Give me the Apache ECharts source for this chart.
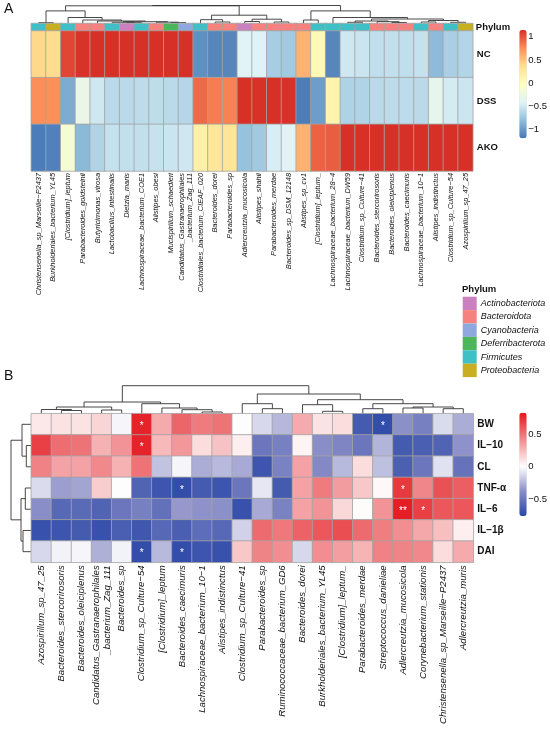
<!DOCTYPE html>
<html>
<head>
<meta charset="utf-8">
<title>Heatmaps</title>
<script src="https://cdn.jsdelivr.net/npm/echarts@6.0.0/dist/echarts.min.js"></script>
<style>
  html, body { margin: 0; padding: 0; background: #fff; }
  #chart { width: 550px; height: 729px; }
</style>
</head>
<body>
<div id="chart"></div>
<script>
// ---------- panel A data ----------
var taxaA = ['Christensenella_sp_Marseille−P2437', 'Burkholderiales_bacterium_YL45', '[Clostridium]_leptum',
  'Parabacteroides_goldsteinii', 'Butyricimonas_virosa', 'Lactobacillus_intestinalis', 'Dietzia_maris',
  'Lachnospiraceae_bacterium_COE1', 'Alistipes_obesi', 'Mucispirillum_schaedleri',
  'Candidatus_Gastranaerophilales\n_bacterium_Zag_111', 'Clostridiales_bacterium_CIEAF_020', 'Bacteroides_dorei',
  'Parabacteroides_sp', 'Adlercreutzia_mucosicola', 'Alistipes_shahii', 'Parabacteroides_merdae',
  'Bacteroides_sp_DSM_12148', 'Alistipes_sp_cv1', '[Clostridium]_leptum_', 'Lachnospiraceae_bacterium_28−4',
  'Lachnospiraceae_bacterium_DW59', 'Clostridium_sp_Culture−41', 'Bacteroides_stercorirosoris',
  'Bacteroides_oleiciplenus', 'Bacteroides_caecimuris', 'Lachnospiraceae_bacterium_10−1',
  'Alistipes_indistinctus', 'Clostridium_sp_Culture−54', 'Azospirillum_sp_47_25'];
var groupsA = ['NC', 'DSS', 'AKO'];
var phylumA = ['Firmicutes', 'Proteobacteria', 'Firmicutes', 'Bacteroidota', 'Bacteroidota', 'Firmicutes',
  'Actinobacteriota', 'Firmicutes', 'Bacteroidota', 'Deferribacterota', 'Cyanobacteria', 'Firmicutes',
  'Bacteroidota', 'Bacteroidota', 'Actinobacteriota', 'Bacteroidota', 'Bacteroidota', 'Bacteroidota',
  'Bacteroidota', 'Firmicutes', 'Firmicutes', 'Firmicutes', 'Firmicutes', 'Bacteroidota', 'Bacteroidota',
  'Bacteroidota', 'Firmicutes', 'Bacteroidota', 'Firmicutes', 'Proteobacteria'];
var ncA = [0.4, 0.38, 1.05, 1.13, 1.15, 1.15, 1.15, 1.15, 1.15, 1.15, 1.15, -1.05, -1.1, -1.1, -0.4, -0.42,
  -0.7, -0.72, 0.58, 0.05, -1.1, -0.5, -0.52, -0.57, -0.56, -0.57, -0.55, -0.82, -0.68, -0.64];
var dssA = [0.75, 0.74, -0.9, -0.3, -0.5, -0.6, -0.6, -0.59, -0.58, -0.6, -0.63, 0.9, 0.82, 0.8, 1.15, 1.14,
  1.15, 1.14, -1.15, -0.98, 0.12, -0.66, -0.65, -0.6, -0.59, -0.59, -0.6, -0.33, -0.47, -0.51];
var akoA = [-1.15, -1.13, -0.15, -0.83, -0.65, -0.55, -0.56, -0.56, -0.54, -0.52, -0.5, 0.17, 0.28, 0.3, -0.78,
  -0.72, -0.45, -0.4, 0.58, 0.93, 0.95, 1.15, 1.15, 1.15, 1.15, 1.15, 1.15, 1.15, 1.15, 1.15];
// column tree, nodes are [left, right, height], leaves are column positions
var c1A = [[0, 1, 0.8], [2, [3, [4, [[5, [6, 7, 0.8], 1.2], [8, [9, 10, 0.9], 1.3], 1.8], 2.5], 3.5], 6.0], 12.6];
var c2A = [[11, [12, 13, 1.5], 3.8], [[14, 15, 2.0], [16, 17, 1.5], 4.3], 8.3];
var c3A = [[18, 19, 3.5], [20, [[[21, 22, 1.2], [23, [24, 25, 1.0], 1.8], 2.5], [[26, 27, 1.5], [28, 29, 1.2], 3.0], 4.5], 6.0], 12.6];
var treeA = [[c1A, c2A, 17.7], c3A, 18.0];
var phylumNames = ['Actinobacteriota', 'Bacteroidota', 'Cyanobacteria', 'Deferribacterota', 'Firmicutes', 'Proteobacteria'];
var phylumColors = ['#CB80BF', '#F6827F', '#8FA8DE', '#4BB65A', '#3FC0C6', '#C8AF22'];
var ticksA = [-1, -0.5, 0, 0.5, 1];

// ---------- panel B data ----------
var taxaB = ['Azospirillum_sp_47_25', 'Bacteroides_stercorirosoris', 'Bacteroides_oleiciplenus',
  'Candidatus_Gastranaerophilales\n_bacterium_Zag_111', 'Bacteroides_sp', 'Clostridium_sp_Culture−54',
  '[Clostridium]_leptum', 'Bacteroides_caecimuris', 'Lachnospiraceae_bacterium_10−1', 'Alistipes_indistinctus',
  'Clostridium_sp_Culture−41', 'Parabacteroides_sp', 'Ruminococcaceae_bacterium_GD6', 'Bacteroides_dorei',
  'Burkholderiales_bacterium_YL45', '[Clostridium]_leptum_', 'Parabacteroides_merdae', 'Streptococcus_danieliae',
  'Adlercreutzia_mucosicola', 'Corynebacterium_stationis', 'Christensenella_sp_Marseille−P2437', 'Adlercreutzia_muris'];
var indicesB = ['BW', 'IL−10', 'CL', 'TNF-α', 'IL−6', 'IL−1β', 'DAI'];
var bwB = [0.08, 0.1, 0.1, 0.15, -0.03, 0.78, 0.3, 0.55, 0.47, 0.5, 0.0, -0.13, -0.24, 0.3, 0.1, 0.12, -0.65, -0.72, -0.37, -0.45, -0.12, -0.27];
var il10B = [0.68, 0.52, 0.5, 0.28, 0.38, 0.78, 0.25, 0.37, 0.12, 0.22, 0.06, -0.5, -0.45, 0.04, -0.38, -0.42, -0.5, -0.25, -0.65, -0.63, -0.6, -0.36];
var clB = [0.45, 0.33, 0.33, 0.42, 0.28, 0.5, -0.2, -0.03, -0.27, -0.23, -0.28, -0.68, -0.44, 0.33, -0.4, -0.23, 0.12, -0.21, -0.62, -0.5, -0.1, -0.52];
var tnfB = [-0.12, -0.32, -0.3, 0.18, 0.0, -0.6, -0.68, -0.72, -0.65, -0.68, -0.5, -0.08, -0.65, 0.33, 0.47, 0.35, 0.2, 0.02, 0.7, 0.43, 0.62, 0.57];
var il6B = [-0.38, -0.58, -0.57, -0.6, -0.5, -0.45, -0.53, -0.34, -0.36, -0.37, -0.7, -0.28, -0.44, 0.33, 0.38, 0.14, 0.01, 0.38, 0.8, 0.68, 0.6, 0.6];
var il1bB = [-0.7, -0.68, -0.65, -0.7, -0.63, -0.67, -0.58, -0.63, -0.55, -0.58, -0.15, 0.53, 0.48, 0.56, 0.6, 0.63, 0.53, 0.46, 0.4, 0.31, 0.23, 0.06];
var daiB = [-0.13, -0.04, -0.03, -0.26, -0.04, -0.72, -0.23, -0.72, -0.68, -0.7, 0.2, 0.44, 0.4, -0.13, 0.4, 0.34, 0.27, 0.45, 0.44, 0.42, 0.12, 0.3];
// significance marks: [column, row, mark]
var starsB = [[5, 0, '*'], [17, 0, '*'], [5, 1, '*'], [7, 3, '*'], [18, 3, '*'], [18, 4, '**'], [19, 4, '*'], [5, 6, '*'], [7, 6, '*']];
var leftB = [[[0, [1, 2, 3.2], 4.2], [3, 4, 3.7], 6.7], [5, [6, [7, [8, 9, 1.7], 4.0], 5.7], 10.0], 11.7];
var rightB = [[10, [11, 12, 5.0], 10.0], [[13, [14, 15, 2.4], 9.0], [[16, 17, 5.0], [[18, 19, 5.7], [20, 21, 5.0], 6.7], 10.0], 14.0], 19.7];
var treeBcol = [leftB, rightB, 28.0];
var treeBrow = [[0, [1, 2, 5.0], 9.3], [[3, 4, 6.0], [5, 6, 8.3], 10.3], 20.3];
var ticksB = [-0.5, 0, 0.5];

// ---------- helpers ----------
var FONT = 'Liberation Sans, Arial, sans-serif';
var minA = -1.19, maxA = 1.144, minB = -0.756, maxB = 0.826;

function walk(node, segs) {
  if (typeof node === 'number') return { pos: node, h: 0 };
  var l = walk(node[0], segs), r = walk(node[1], segs);
  segs.push([l.pos, r.pos, l.h, r.h, node[2]]);
  return { pos: (l.pos + r.pos) / 2, h: node[2] };
}
function segments(tree) { var s = []; walk(tree, s); return s; }

function dendro(horizontal) {
  return function (params, api) {
    var x1 = api.value(0), x2 = api.value(1), h1 = api.value(2), h2 = api.value(3), hm = api.value(4);
    var pts = horizontal
      ? [[h1, x1], [hm, x1], [hm, x2], [h2, x2]]
      : [[x1, h1], [x1, hm], [x2, hm], [x2, h2]];
    return {
      type: 'polyline',
      shape: { points: pts.map(function (p) { return api.coord(p); }) },
      style: { stroke: '#333', lineWidth: 0.9, fill: null }
    };
  };
}

function hex(c) { return [parseInt(c.substr(1, 2), 16), parseInt(c.substr(3, 2), 16), parseInt(c.substr(5, 2), 16)]; }
function mix(a, b, t) {
  var p = hex(a), q = hex(b);
  return 'rgb(' + p.map(function (v, i) { return Math.round(v + (q[i] - v) * t); }).join(',') + ')';
}
var paletteB = [];
for (var i = 0; i <= 40; i++) {
  var v = minB + (maxB - minB) * i / 40;
  if (v < 0) {
    var t = v / minB;
    paletteB.push(t <= 0.5 ? mix('#ffffff', '#8A8DC7', t / 0.5) : mix('#8A8DC7', '#2A47A7', (t - 0.5) / 0.5));
  } else {
    paletteB.push(mix('#ffffff', '#E3171D', v / maxB));
  }
}
function minus(v) { return String(v).replace('-', '−'); }

var heatA = [];
[ncA, dssA, akoA].forEach(function (row, r) {
  row.forEach(function (val, c) { heatA.push([c, r, val]); });
});
var annotA = phylumA.map(function (p, c) { return [c, 0, phylumNames.indexOf(p)]; });
var heatB = [];
[bwB, il10B, clB, tnfB, il6B, il1bB, daiB].forEach(function (row, r) {
  row.forEach(function (val, c) { heatB.push([c, r, val]); });
});
var starMap = {};
starsB.forEach(function (s) { starMap[s[0] + '_' + s[1]] = s[2]; });

var hidden = { show: false };
var noLine = { show: false };

var myChart = echarts.init(document.getElementById('chart'));
var option = {
  animation: false,
  backgroundColor: '#fff',
  textStyle: { fontFamily: FONT },
  graphic: [
    { type: 'text', left: 4, top: 2, style: { text: 'A', fontSize: 14, fontFamily: FONT, fill: '#111' } },
    { type: 'text', left: 4, top: 369, style: { text: 'B', fontSize: 14, fontFamily: FONT, fill: '#111' } },
    { type: 'text', left: 462, top: 284, style: { text: 'Phylum', fontSize: 9.5, fontWeight: 'bold', fontFamily: FONT, fill: '#111' } }
  ],
  grid: [
    { left: 31.3, top: 3, width: 441.5, height: 20.5 },          // 0 A tree
    { left: 31.3, top: 23.5, width: 441.5, height: 7.3 },        // 1 A phylum bar
    { left: 31.3, top: 31, width: 441.5, height: 140 },          // 2 A heatmap
    { left: 519.3, top: 30, width: 7.4, height: 108.3 },         // 3 A colour bar axis
    { left: 31.3, top: 383, width: 442, height: 30.7 },          // 4 B column tree
    { left: 8, top: 413.7, width: 23.3, height: 148.6 },         // 5 B row tree
    { left: 31.3, top: 413.7, width: 442, height: 148.6 },       // 6 B heatmap
    { left: 519.3, top: 412.7, width: 7.4, height: 103.3 }       // 7 B colour bar axis
  ],
  xAxis: [
    { gridIndex: 0, type: 'value', min: -0.5, max: taxaA.length - 0.5, show: false },
    { gridIndex: 1, type: 'category', data: taxaA, show: false },
    { gridIndex: 2, type: 'category', data: taxaA, axisLine: noLine, axisTick: hidden,
      axisLabel: { interval: 0, rotate: 90, fontSize: 7.4, fontStyle: 'italic', color: '#111', margin: 2, lineHeight: 8 } },
    { gridIndex: 3, type: 'value', show: false },
    { gridIndex: 4, type: 'value', min: -0.5, max: taxaB.length - 0.5, show: false },
    { gridIndex: 5, type: 'value', min: 0, max: 23.3, inverse: true, show: false },
    { gridIndex: 6, type: 'category', data: taxaB, axisLine: noLine, axisTick: hidden,
      axisLabel: { interval: 0, rotate: 90, fontSize: 9.6, fontStyle: 'italic', color: '#111', margin: 3, lineHeight: 10.5 } },
    { gridIndex: 7, type: 'value', show: false }
  ],
  yAxis: [
    { gridIndex: 0, type: 'value', min: 0, max: 20.5, show: false },
    { gridIndex: 1, type: 'category', data: ['Phylum'], position: 'right', axisLine: noLine, axisTick: hidden,
      axisLabel: { fontSize: 9.5, fontWeight: 'bold', color: '#111', margin: 3 } },
    { gridIndex: 2, type: 'category', data: groupsA, inverse: true, position: 'right', axisLine: noLine, axisTick: hidden,
      axisLabel: { fontSize: 9.5, fontWeight: 'bold', color: '#111', margin: 4 } },
    { gridIndex: 3, type: 'value', min: minA, max: maxA, position: 'right', axisLine: noLine, axisTick: hidden,
      splitLine: hidden, axisLabel: { customValues: ticksA, formatter: minus, fontSize: 9.5, color: '#111', margin: 3.5 } },
    { gridIndex: 4, type: 'value', min: 0, max: 30.7, show: false },
    { gridIndex: 5, type: 'value', min: -0.5, max: indicesB.length - 0.5, inverse: true, show: false },
    { gridIndex: 6, type: 'category', data: indicesB, inverse: true, position: 'right', axisLine: noLine, axisTick: hidden,
      axisLabel: { fontSize: 10, fontWeight: 'bold', color: '#111', margin: 4 } },
    { gridIndex: 7, type: 'value', min: minB, max: maxB, position: 'right', axisLine: noLine, axisTick: hidden,
      splitLine: hidden, axisLabel: { customValues: ticksB, formatter: minus, fontSize: 9.5, color: '#111', margin: 3 } }
  ],
  visualMap: [
    { type: 'continuous', seriesIndex: 2, dimension: 2, min: minA, max: maxA, calculable: false,
      left: 519.3, top: 30, itemWidth: 7.4, itemHeight: 108.3, padding: 0, text: null, hoverLink: false,
      inRange: { color: ['#4575B4', '#91BFDB', '#E0F3F8', '#FFFFBF', '#FEE090', '#FC8D59', '#D73027'] } },
    { type: 'continuous', seriesIndex: 5, dimension: 2, min: minB, max: maxB, calculable: false,
      left: 519.3, top: 412.7, itemWidth: 7.4, itemHeight: 103.3, padding: 0, text: null, hoverLink: false,
      inRange: { color: paletteB } },
    { type: 'piecewise', seriesIndex: 1, dimension: 2, left: 462.7, top: 296.7, padding: 0,
      itemWidth: 14, itemHeight: 13.4, itemGap: 0, itemSymbol: 'rect', inverse: true, textGap: 4,
      align: 'left', selectedMode: false, hoverLink: false,
      textStyle: { fontSize: 9, fontStyle: 'italic', color: '#111' },
      pieces: phylumNames.map(function (n, k) { return { value: k, label: n, color: phylumColors[k] }; }) }
  ],
  series: [
    { type: 'custom', xAxisIndex: 0, yAxisIndex: 0, renderItem: dendro(false), silent: true,
      encode: { x: [0, 1], y: [2, 3, 4] }, data: segments(treeA) },
    { type: 'heatmap', xAxisIndex: 1, yAxisIndex: 1, data: annotA, silent: true, progressive: 0,
      itemStyle: { borderColor: '#A3A3A3', borderWidth: 0.8 } },
    { type: 'heatmap', xAxisIndex: 2, yAxisIndex: 2, data: heatA, silent: true, progressive: 0,
      itemStyle: { borderColor: '#A3A3A3', borderWidth: 0.8 } },
    { type: 'custom', xAxisIndex: 4, yAxisIndex: 4, renderItem: dendro(false), silent: true,
      encode: { x: [0, 1], y: [2, 3, 4] }, data: segments(treeBcol) },
    { type: 'custom', xAxisIndex: 5, yAxisIndex: 5, renderItem: dendro(true), silent: true,
      encode: { x: [2, 3, 4], y: [0, 1] }, data: segments(treeBrow) },
    { type: 'heatmap', xAxisIndex: 6, yAxisIndex: 6, data: heatB, silent: true, progressive: 0,
      itemStyle: { borderColor: '#A3A3A3', borderWidth: 0.8 },
      label: { show: true, color: '#fff', fontSize: 10, offset: [0, 2],
        formatter: function (p) { return starMap[p.data[0] + '_' + p.data[1]] || ''; } } }
  ]
};
myChart.setOption(option);
</script>
</body>
</html>
